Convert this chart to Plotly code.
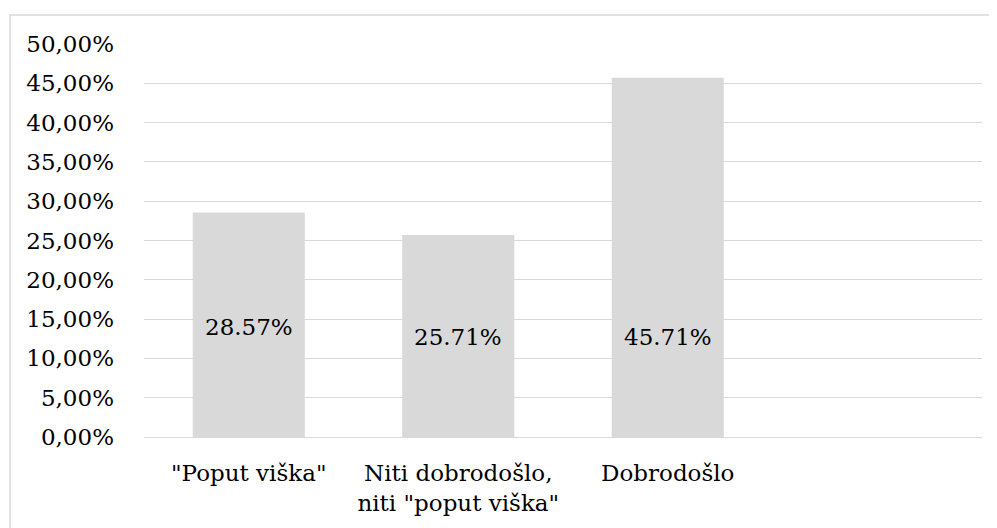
import plotly.graph_objects as go

categories = ['"Poput viška"', 'Niti dobrodošlo,<br>niti "poput viška"', 'Dobrodošlo']
values = [28.57, 25.71, 45.71]
value_labels = ["28.57%", "25.71%", "45.71%"]
label_y = [14.0, 12.7, 12.7]
tick_vals = [0, 5, 10, 15, 20, 25, 30, 35, 40, 45, 50]
tick_text = ["0,00%", "5,00%", "10,00%", "15,00%", "20,00%", "25,00%",
             "30,00%", "35,00%", "40,00%", "45,00%", "50,00%"]

FONT = "DejaVu Serif"
FS = 23
GRID = "#d9d9d9"

fig = go.Figure()
fig.add_trace(go.Bar(
    x=categories, y=values,
    marker=dict(color="#d9d9d9", line=dict(width=0)),
    width=0.535,
    hoverinfo="skip",
))

for c, t, yv in zip(categories, value_labels, label_y):
    fig.add_annotation(x=c, y=yv, text=t, showarrow=False,
                       font=dict(family=FONT, size=FS, color="#000000"),
                       xanchor="center", yanchor="middle")

# page body has an 8px margin; compensate so the plot lands where the reference has it
OFF = 8
W, H = 997 - OFF, 528 - OFF
L, R, T, B = 144 - OFF, 15, 44 - OFF, 91
pw = W - L - R
ph = H - T - B
# outer chart border (light gray), cropped at right/bottom
fig.add_shape(type="rect", xref="paper", yref="paper",
              x0=(10 - OFF - L) / pw, x1=(996.5 - OFF - L) / pw,
              y0=(H - B - 540) / ph, y1=(H - B - (15 - OFF)) / ph,
              line=dict(color="#d9d9d9", width=1.5), fillcolor="rgba(0,0,0,0)",
              layer="below")

fig.update_layout(
    width=W, height=H,
    margin=dict(l=L, r=R, t=T, b=B, pad=0, autoexpand=False),
    paper_bgcolor="white", plot_bgcolor="white",
    showlegend=False,
    font=dict(family=FONT, size=FS, color="#000000"),
    bargap=0.465,
)
fig.update_xaxes(
    type="category",
    categoryorder="array", categoryarray=categories,
    range=[-0.5, 3.5], automargin=False,
    showgrid=False, showline=False, zeroline=False,
    ticks="", ticklabelstandoff=20, tickangle=0,
    tickfont=dict(family=FONT, size=FS, color="#000000"),
)
fig.update_yaxes(
    range=[0, 50], automargin=False,
    tickvals=tick_vals, ticktext=tick_text,
    showgrid=True, gridcolor=GRID, gridwidth=1.3,
    zeroline=True, zerolinecolor=GRID, zerolinewidth=1.3,
    showline=False, ticks="",
    ticklabelstandoff=29,
    tickfont=dict(family=FONT, size=FS, color="#000000"),
)

fig.write_html("out.html")
